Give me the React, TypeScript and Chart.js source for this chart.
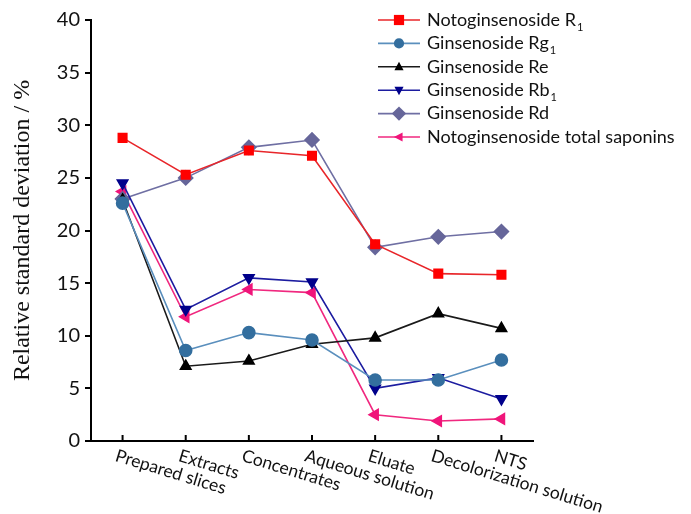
import React, { useEffect, useRef } from "react";
import { Chart, registerables } from "chart.js";
Chart.register(...registerables);

const categories = [
  "Prepared slices",
  "Extracts",
  "Concentrates",
  "Aqueous solution",
  "Eluate",
  "Decolorization solution",
  "NTS",
];

const r1 = [28.8, 25.3, 27.6, 27.1, 18.7, 15.9, 15.8];
const rg1 = [22.6, 8.6, 10.3, 9.6, 5.8, 5.8, 7.7];
const re = [22.9, 7.1, 7.6, 9.2, 9.8, 12.1, 10.7];
const rb1 = [24.5, 12.5, 15.5, 15.1, 5.0, 6.0, 4.0];
const rd = [23.0, 25.0, 27.9, 28.6, 18.4, 19.4, 19.9];
const nts = [23.7, 11.8, 14.4, 14.1, 2.5, 1.9, 2.1];

const seriesNames = [
  ["Notoginsenoside R", "1"],
  ["Ginsenoside Rg", "1"],
  ["Ginsenoside Re", ""],
  ["Ginsenoside Rb", "1"],
  ["Ginsenoside Rd", ""],
  ["Notoginsenoside total saponins", ""],
];

const TEXT_FONT = "Lato, 'Open Sans', sans-serif";

export default function App() {
  const ref = useRef<HTMLCanvasElement>(null);
  useEffect(() => {
    const styles = [
      { data: r1, line: "#e8262a", pt: "#ff0000", style: "rect", rot: 0, r: 6 },
      { data: rg1, line: "#5a8fbd", pt: "#336e9e", style: "circle", rot: 0, r: 6 },
      { data: re, line: "#1a1a1a", pt: "#000000", style: "triangle", rot: 0, r: 6 },
      { data: rb1, line: "#1c1ca0", pt: "#00008b", style: "triangle", rot: 180, r: 6 },
      { data: rd, line: "#6f6fa3", pt: "#66669a", style: "rectRot", rot: 0, r: 7 },
      { data: nts, line: "#f0287f", pt: "#f0157a", style: "triangle", rot: -90, r: 6 },
    ];
    const datasets = styles.map((s, i) => ({
      label: seriesNames[i].join(""),
      data: s.data,
      borderColor: s.line,
      backgroundColor: s.pt,
      pointBackgroundColor: s.pt,
      pointBorderColor: s.pt,
      pointStyle: s.style as any,
      pointRotation: s.rot,
      pointRadius: s.r,
      borderWidth: 1.6,
      tension: 0,
    }));

    const customPlugin = {
      id: "custom",
      afterDraw(chart: any) {
        const ctx = chart.ctx;
        const xs = chart.scales.x;
        const area = chart.chartArea;
        ctx.save();
        // inner x ticks
        ctx.strokeStyle = "#000";
        ctx.lineWidth = 2;
        categories.forEach((_, i) => {
          const x = xs.getPixelForTick(i);
          ctx.beginPath();
          ctx.moveTo(x, area.bottom);
          ctx.lineTo(x, area.bottom - 6);
          ctx.stroke();
        });
        // rotated x labels
        ctx.fillStyle = "#111";
        ctx.font = `17.5px ${TEXT_FONT}`;
        ctx.textAlign = "left";
        ctx.textBaseline = "top";
        categories.forEach((c, i) => {
          const x = xs.getPixelForTick(i);
          ctx.save();
          ctx.translate(x - 4, area.bottom + 6);
          ctx.rotate((17 * Math.PI) / 180);
          ctx.fillText(c, 0, 0);
          ctx.restore();
        });
        // legend
        const lx = area.right - 155;
        const ly = area.top;
        styles.forEach((s, i) => {
          const y = ly + i * 23.4;
          ctx.strokeStyle = s.line;
          ctx.lineWidth = 1.6;
          ctx.beginPath();
          ctx.moveTo(lx, y);
          ctx.lineTo(lx + 42, y);
          ctx.stroke();
          ctx.fillStyle = s.pt;
          drawPoint(ctx, s.style, s.r * 0.85, lx + 21, y, s.rot);
          ctx.fillStyle = "#111";
          ctx.font = `18px ${TEXT_FONT}`;
          ctx.textAlign = "left";
          ctx.textBaseline = "middle";
          const [main, sub] = seriesNames[i];
          ctx.fillText(main, lx + 49, y);
          if (sub) {
            const w = ctx.measureText(main).width;
            ctx.font = `11px ${TEXT_FONT}`;
            ctx.fillText(sub, lx + 49 + w + 1, y + 7);
          }
        });
        ctx.restore();
      },
    };

    const chart = new Chart(ref.current!, {
      type: "line",
      data: { labels: categories, datasets },
      plugins: [customPlugin],
      options: {
        animation: false,
        responsive: false,
        maintainAspectRatio: false,
        layout: { padding: { top: 20, right: 158, left: 8, bottom: 0 } },
        plugins: { legend: { display: false }, tooltip: { enabled: false } },
        scales: {
          x: {
            type: "category",
            offset: true,
            grid: { display: false, drawTicks: false },
            border: { display: true, color: "#000", width: 2 },
            ticks: { display: false },
            afterFit(scale: any) {
              scale.height = 73;
            },
          },
          y: {
            min: 0,
            max: 40,
            grid: {
              display: true,
              drawOnChartArea: false,
              drawTicks: true,
              tickLength: 6,
              color: "#000",
              lineWidth: 2,
            },
            border: { display: true, color: "#000", width: 2 },
            ticks: {
              stepSize: 5,
              color: "#111",
              padding: 5,
              font: { size: 20, family: TEXT_FONT },
            },
            title: {
              display: true,
              text: "Relative standard deviation / %",
              color: "#111",
              font: { size: 24, family: "'Liberation Serif', serif" },
              padding: { top: 0, bottom: 2 },
            },
            afterFit(scale: any) {
              scale.width = 83;
            },
          },
        },
      },
    });
    return () => chart.destroy();
  }, []);

  return (
    <div style={{ position: "fixed", left: 0, top: 0, width: 691, height: 514, background: "#fff" }}>
      <canvas ref={ref} width={691} height={514} style={{ width: 691, height: 514 }} />
    </div>
  );
}

function drawPoint(ctx: CanvasRenderingContext2D, style: string, r: number, x: number, y: number, rot: number) {
  ctx.save();
  ctx.translate(x, y);
  ctx.rotate((rot * Math.PI) / 180);
  ctx.beginPath();
  if (style === "rect") {
    ctx.rect(-r, -r, 2 * r, 2 * r);
  } else if (style === "circle") {
    ctx.arc(0, 0, r, 0, Math.PI * 2);
  } else if (style === "rectRot") {
    ctx.moveTo(0, -r * 1.2);
    ctx.lineTo(r * 1.2, 0);
    ctx.lineTo(0, r * 1.2);
    ctx.lineTo(-r * 1.2, 0);
    ctx.closePath();
  } else {
    ctx.moveTo(0, -r);
    ctx.lineTo(r * 0.9, r * 0.7);
    ctx.lineTo(-r * 0.9, r * 0.7);
    ctx.closePath();
  }
  ctx.fill();
  ctx.restore();
}
